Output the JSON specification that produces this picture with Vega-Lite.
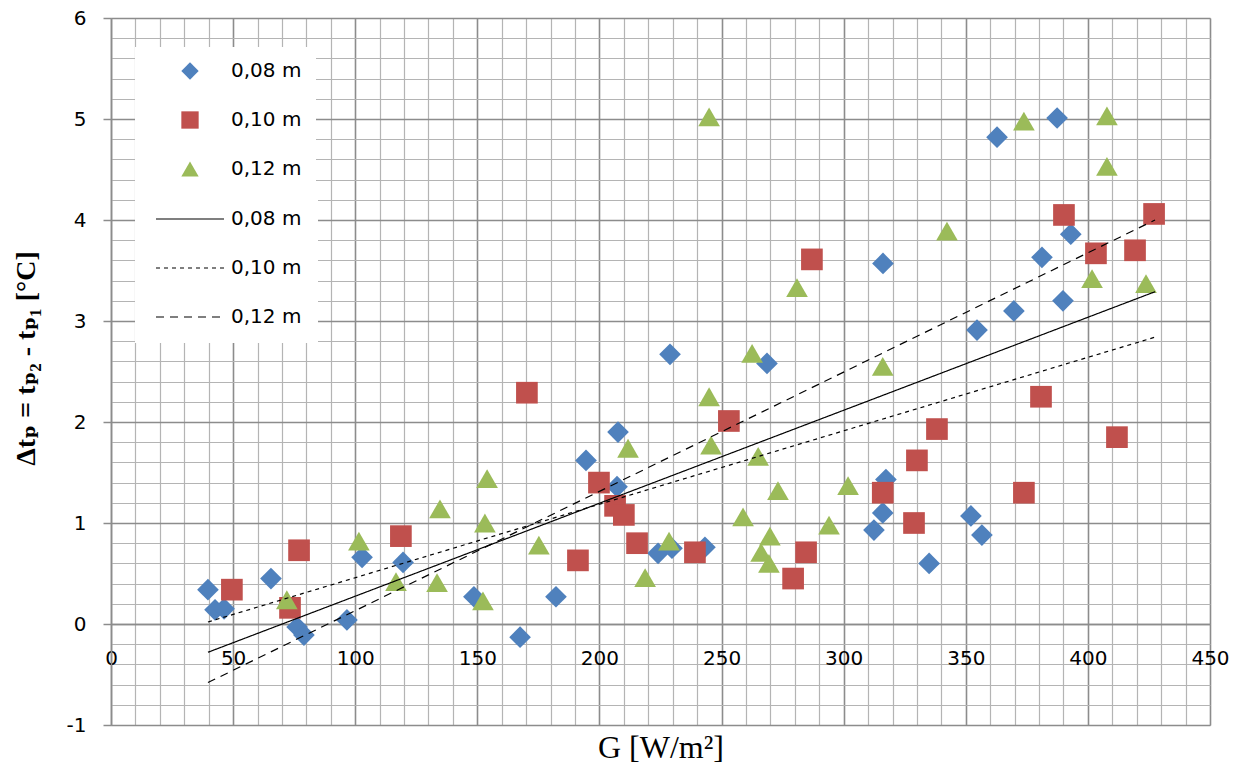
{
  "$schema": "https://vega.github.io/schema/vega-lite/v6.json",
  "width": 1099,
  "height": 707,
  "autosize": {"type": "none"},
  "padding": {"left": 111, "top": 18, "right": 30, "bottom": 42},
  "background": "white",
  "config": {
    "view": {"stroke": null},
    "axis": {"labelFont": "DejaVu Sans", "labelFontSize": 20, "labelColor": "black"}
  },
  "datasets": {
    "pts": [
      {"s": "0,08 m", "G": 39.7, "dt": 0.34}, {"s": "0,08 m", "G": 42.6, "dt": 0.14}, {"s": "0,08 m", "G": 46.3, "dt": 0.15},
      {"s": "0,08 m", "G": 65.5, "dt": 0.45}, {"s": "0,08 m", "G": 76.2, "dt": -0.03}, {"s": "0,08 m", "G": 79.0, "dt": -0.11},
      {"s": "0,08 m", "G": 96.6, "dt": 0.04}, {"s": "0,08 m", "G": 102.8, "dt": 0.66}, {"s": "0,08 m", "G": 119.6, "dt": 0.61},
      {"s": "0,08 m", "G": 148.6, "dt": 0.27}, {"s": "0,08 m", "G": 167.5, "dt": -0.13}, {"s": "0,08 m", "G": 182.2, "dt": 0.27},
      {"s": "0,08 m", "G": 194.5, "dt": 1.62}, {"s": "0,08 m", "G": 207.6, "dt": 1.90}, {"s": "0,08 m", "G": 207.2, "dt": 1.36},
      {"s": "0,08 m", "G": 224.0, "dt": 0.70}, {"s": "0,08 m", "G": 229.7, "dt": 0.75}, {"s": "0,08 m", "G": 243.2, "dt": 0.76},
      {"s": "0,08 m", "G": 228.9, "dt": 2.67}, {"s": "0,08 m", "G": 268.6, "dt": 2.58}, {"s": "0,08 m", "G": 316.1, "dt": 3.57},
      {"s": "0,08 m", "G": 317.3, "dt": 1.43}, {"s": "0,08 m", "G": 316.0, "dt": 1.10}, {"s": "0,08 m", "G": 312.4, "dt": 0.93},
      {"s": "0,08 m", "G": 335.0, "dt": 0.60}, {"s": "0,08 m", "G": 352.1, "dt": 1.07}, {"s": "0,08 m", "G": 356.6, "dt": 0.88},
      {"s": "0,08 m", "G": 354.6, "dt": 2.91}, {"s": "0,08 m", "G": 369.7, "dt": 3.10}, {"s": "0,08 m", "G": 381.2, "dt": 3.63},
      {"s": "0,08 m", "G": 389.8, "dt": 3.20}, {"s": "0,08 m", "G": 393.0, "dt": 3.86}, {"s": "0,08 m", "G": 362.8, "dt": 4.82},
      {"s": "0,08 m", "G": 387.4, "dt": 5.01},
      {"s": "0,10 m", "G": 49.5, "dt": 0.34}, {"s": "0,10 m", "G": 73.3, "dt": 0.16}, {"s": "0,10 m", "G": 77.0, "dt": 0.73},
      {"s": "0,10 m", "G": 118.7, "dt": 0.87}, {"s": "0,10 m", "G": 170.3, "dt": 2.29}, {"s": "0,10 m", "G": 191.2, "dt": 0.63},
      {"s": "0,10 m", "G": 199.8, "dt": 1.40}, {"s": "0,10 m", "G": 206.4, "dt": 1.17}, {"s": "0,10 m", "G": 210.0, "dt": 1.08},
      {"s": "0,10 m", "G": 215.4, "dt": 0.80}, {"s": "0,10 m", "G": 239.1, "dt": 0.71}, {"s": "0,10 m", "G": 253.0, "dt": 2.01},
      {"s": "0,10 m", "G": 284.6, "dt": 0.71}, {"s": "0,10 m", "G": 279.3, "dt": 0.45}, {"s": "0,10 m", "G": 287.0, "dt": 3.61},
      {"s": "0,10 m", "G": 316.0, "dt": 1.30}, {"s": "0,10 m", "G": 328.8, "dt": 1.00}, {"s": "0,10 m", "G": 330.0, "dt": 1.62},
      {"s": "0,10 m", "G": 338.2, "dt": 1.93}, {"s": "0,10 m", "G": 373.8, "dt": 1.30}, {"s": "0,10 m", "G": 380.8, "dt": 2.25},
      {"s": "0,10 m", "G": 390.2, "dt": 4.05}, {"s": "0,10 m", "G": 403.3, "dt": 3.67}, {"s": "0,10 m", "G": 419.3, "dt": 3.70},
      {"s": "0,10 m", "G": 427.1, "dt": 4.06}, {"s": "0,10 m", "G": 411.9, "dt": 1.85},
      {"s": "0,12 m", "G": 72.0, "dt": 0.24}, {"s": "0,12 m", "G": 101.5, "dt": 0.82}, {"s": "0,12 m", "G": 116.7, "dt": 0.42},
      {"s": "0,12 m", "G": 133.5, "dt": 0.41}, {"s": "0,12 m", "G": 134.7, "dt": 1.14}, {"s": "0,12 m", "G": 153.1, "dt": 1.00},
      {"s": "0,12 m", "G": 154.0, "dt": 1.44}, {"s": "0,12 m", "G": 152.3, "dt": 0.23}, {"s": "0,12 m", "G": 175.2, "dt": 0.78},
      {"s": "0,12 m", "G": 218.7, "dt": 0.46}, {"s": "0,12 m", "G": 211.7, "dt": 1.74}, {"s": "0,12 m", "G": 228.5, "dt": 0.82},
      {"s": "0,12 m", "G": 244.9, "dt": 5.02}, {"s": "0,12 m", "G": 244.9, "dt": 2.25}, {"s": "0,12 m", "G": 245.7, "dt": 1.77},
      {"s": "0,12 m", "G": 262.5, "dt": 2.68}, {"s": "0,12 m", "G": 258.8, "dt": 1.06}, {"s": "0,12 m", "G": 265.0, "dt": 1.66},
      {"s": "0,12 m", "G": 266.2, "dt": 0.71}, {"s": "0,12 m", "G": 269.8, "dt": 0.87}, {"s": "0,12 m", "G": 269.4, "dt": 0.60},
      {"s": "0,12 m", "G": 273.1, "dt": 1.32}, {"s": "0,12 m", "G": 280.9, "dt": 3.33}, {"s": "0,12 m", "G": 294.0, "dt": 0.98},
      {"s": "0,12 m", "G": 301.8, "dt": 1.37}, {"s": "0,12 m", "G": 316.0, "dt": 2.55}, {"s": "0,12 m", "G": 342.3, "dt": 3.89},
      {"s": "0,12 m", "G": 373.8, "dt": 4.98}, {"s": "0,12 m", "G": 407.8, "dt": 5.03}, {"s": "0,12 m", "G": 407.8, "dt": 4.53},
      {"s": "0,12 m", "G": 401.7, "dt": 3.42}, {"s": "0,12 m", "G": 423.8, "dt": 3.37}
    ],
    "fit": [
      {"d": "0,08\u00a0m", "G": 39.7, "dt": -0.28}, {"d": "0,08\u00a0m", "G": 427.5, "dt": 3.29},
      {"d": "0,10\u00a0m", "G": 39.7, "dt": 0.02}, {"d": "0,10\u00a0m", "G": 427.5, "dt": 2.84},
      {"d": "0,12\u00a0m", "G": 39.7, "dt": -0.58}, {"d": "0,12\u00a0m", "G": 427.5, "dt": 4.0}
    ]
  },
  "layer": [
    {
      "data": {"name": "pts"},
      "mark": {"type": "point", "filled": true, "opacity": 1, "size": 470},
      "encoding": {
        "x": {
          "field": "G", "type": "quantitative",
          "scale": {"domain": [0, 450], "nice": false, "zero": false},
          "axis": {
            "orient": "bottom", "title": null, "labels": false, "ticks": false, "domain": false,
            "grid": true, "gridColor": "#b4b4b4", "gridWidth": 1.2,
            "values": [0,10,20,30,40,50,60,70,80,90,100,110,120,130,140,150,160,170,180,190,200,210,220,230,240,250,260,270,280,290,300,310,320,330,340,350,360,370,380,390,400,410,420,430,440,450]
          }
        },
        "y": {
          "field": "dt", "type": "quantitative",
          "scale": {"domain": [-1, 6], "nice": false, "zero": false},
          "axis": {
            "orient": "left", "title": null, "labels": false, "ticks": false, "domain": false,
            "grid": true, "gridColor": "#b4b4b4", "gridWidth": 1.2,
            "values": [-1,-0.8,-0.6,-0.4,-0.2,0,0.2,0.4,0.6,0.8,1,1.2,1.4,1.6,1.8,2,2.2,2.4,2.6,2.8,3,3.2,3.4,3.6,3.8,4,4.2,4.4,4.6,4.8,5,5.2,5.4,5.6,5.8,6]
          }
        },
        "color": {
          "field": "s", "type": "nominal",
          "scale": {"domain": ["0,08 m", "0,10 m", "0,12 m"], "range": ["#4F81BD", "#C0504D", "#9BBB59"]},
          "legend": {
            "title": null, "orient": "none", "legendX": 24, "legendY": 29, "direction": "vertical",
            "padding": 14, "fillColor": "white", "strokeColor": null, "symbolSize": 300, "symbolOffset": 31,
            "labelOffset": 31, "rowPadding": 29, "labelFont": "DejaVu Sans", "labelFontSize": 20,
            "labelColor": "black", "symbolStrokeWidth": 0, "zindex": 1
          }
        },
        "shape": {
          "field": "s", "type": "nominal",
          "scale": {"domain": ["0,08 m", "0,10 m", "0,12 m"], "range": ["diamond", "square", "triangle-up"]},
          "legend": {
            "title": null, "orient": "none", "legendX": 24, "legendY": 29, "direction": "vertical",
            "padding": 14, "fillColor": "white", "strokeColor": null, "symbolSize": 300, "symbolOffset": 31,
            "labelOffset": 31, "rowPadding": 29, "labelFont": "DejaVu Sans", "labelFontSize": 20,
            "labelColor": "black", "symbolStrokeWidth": 0, "zindex": 1
          }
        }
      }
    },
    {
      "data": {"name": "fit"},
      "mark": {"type": "line", "color": "black", "strokeWidth": 1.2},
      "encoding": {
        "x": {
          "field": "G", "type": "quantitative",
          "scale": {"domain": [0, 450], "nice": false, "zero": false},
          "axis": {
            "orient": "bottom", "offset": -101,
            "values": [0, 50, 100, 150, 200, 250, 300, 350, 400, 450],
            "grid": true, "gridColor": "#8c8c8c", "gridWidth": 1.5,
            "domain": true, "domainColor": "#8c8c8c", "domainWidth": 1.5,
            "ticks": false, "labelPadding": 24, "labelOverlap": false, "labelFlush": false,
            "labelExpr": "'' + datum.value",
            "title": "G [W/m²]", "titleFont": "Liberation Serif", "titleFontSize": 32,
            "titleFontWeight": "normal", "titleColor": "black",
            "titleX": 549.5, "titleY": 133, "titleBaseline": "alphabetic", "titleAlign": "center"
          }
        },
        "y": {
          "field": "dt", "type": "quantitative",
          "scale": {"domain": [-1, 6], "nice": false, "zero": false},
          "axis": {
            "orient": "left",
            "values": [-1, 0, 1, 2, 3, 4, 5, 6],
            "grid": true, "gridColor": "#8c8c8c", "gridWidth": 1.5,
            "domain": true, "domainColor": "#8c8c8c", "domainWidth": 1.5,
            "ticks": true, "tickSize": 8, "tickColor": "#8c8c8c", "tickWidth": 1.5,
            "labelPadding": 17, "labelExpr": "'' + datum.value",
            "title": "Δtₚ = tₚ₂ - tₚ₁ [°C]", "titleFont": "Liberation Serif, DejaVu Serif", "titleFontSize": 28,
            "titleFontWeight": "bold", "titleColor": "black",
            "titleX": -85, "titleY": 340, "titleAngle": -90, "titleBaseline": "middle", "titleAlign": "center"
          }
        },
        "strokeDash": {
          "field": "d", "type": "nominal",
          "scale": {"domain": ["0,08\u00a0m", "0,10\u00a0m", "0,12\u00a0m"], "range": [[1, 0], [4, 4], [8, 6]]},
          "legend": {
            "title": null, "orient": "none", "legendX": 24, "legendY": 175, "direction": "vertical",
            "padding": 16, "fillColor": "white", "strokeColor": null,
            "symbolType": "stroke", "symbolSize": 4624, "symbolOffset": 4, "labelOffset": 6,
            "clipHeight": 20,
            "symbolStrokeColor": "black", "symbolStrokeWidth": 1.2, "rowPadding": 29,
            "labelFont": "DejaVu Sans", "labelFontSize": 20, "labelColor": "black", "zindex": 1
          }
        }
      }
    }
  ],
  "resolve": {"axis": {"x": "independent", "y": "independent"}}
}
